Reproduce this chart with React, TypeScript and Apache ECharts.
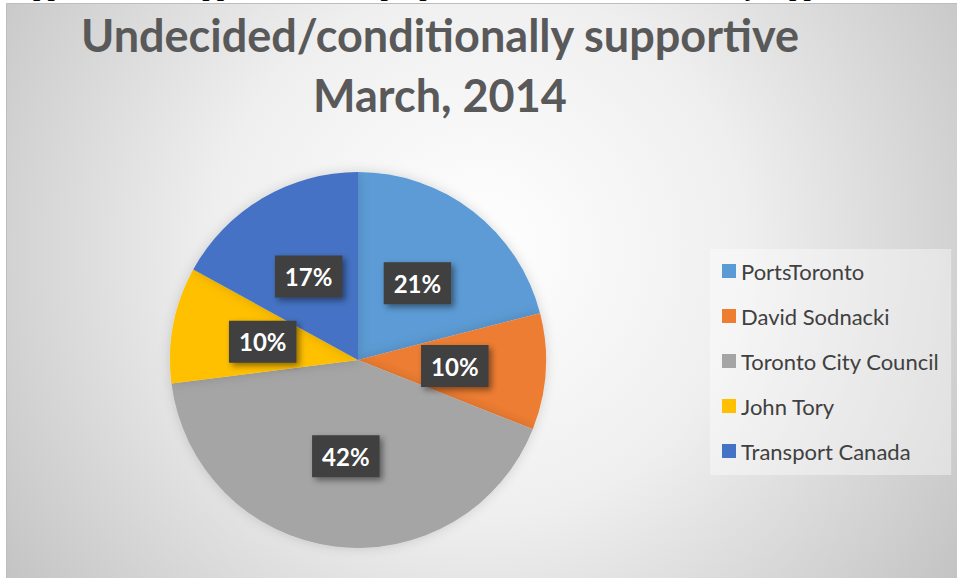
import React, { useEffect, useRef } from "react";
import * as echarts from "echarts";

const categories = ["PortsToronto", "David Sodnacki", "Toronto City Council", "John Tory", "Transport Canada"];
const values = [21, 10, 42, 10, 17];
const colors = ["#5B9BD5", "#ED7D31", "#A5A5A5", "#FFC000", "#4472C4"];
const titleLines = ["Undecided/conditionally supportive", "March, 2014"];
const headingText = "Support for and opposition to the proposal; undecided/conditionally supportive, March, 2014,";

export default function App() {
  const ref = useRef<HTMLDivElement>(null);
  useEffect(() => {
    if (!ref.current) return;
    const chart = echarts.init(ref.current, null, { renderer: "svg" });
    chart.setOption({
      animation: false,
      graphic: [
        {
          type: "rect",
          z: -10,
          shape: { x: 6.5, y: 3.5, width: 955, height: 580 },
          style: {
            fill: new echarts.graphic.RadialGradient(480, 250, 590, [
              { offset: 0, color: "#ffffff" },
              { offset: 0.45, color: "#efefef" },
              { offset: 1, color: "#c2c2c2" },
            ], true),
            stroke: "#bdbdbd",
            lineWidth: 1,
          },
        },
        {
          type: "text",
          z: 10,
          x: 4,
          y: 0,
          style: {
            text: headingText,
            font: "bold 26px 'Liberation Serif'",
            fill: "#000000",
            align: "left",
            verticalAlign: "bottom",
          },
        },
        {
          type: "text",
          z: 10,
          x: 440,
          y: 5,
          style: {
            text: titleLines.join("\n"),
            font: "bold 45px Lato",
            lineHeight: 60,
            fill: "#595959",
            align: "center",
            verticalAlign: "top",
          },
        },
      ],
      color: colors,
      legend: {
        data: categories,
        orient: "vertical",
        left: 710,
        top: 249,
        padding: [11, 12, 13, 12],
        itemGap: 23,
        itemWidth: 14,
        itemHeight: 14,
        icon: "rect",
        selectedMode: false,
        backgroundColor: "rgba(255,255,255,0.4)",
        textStyle: { fontFamily: "Lato", fontSize: 22, color: "#404040" },
      },
      series: [
        {
          type: "pie",
          center: [358, 360],
          radius: 188,
          startAngle: 90,
          clockwise: true,
          percentPrecision: 0,
          itemStyle: { shadowBlur: 12, shadowColor: "rgba(0,0,0,0.15)" },
          label: {
            show: true,
            position: "inside",
            formatter: "{d}%",
            fontFamily: "Lato",
            fontWeight: "bold",
            fontSize: 24,
            color: "#ffffff",
            backgroundColor: "#3f3f3f",
            padding: [10, 10, 8, 10],
            shadowColor: "rgba(0,0,0,0.45)",
            shadowBlur: 6,
            shadowOffsetX: 3,
            shadowOffsetY: 3,
          },
          labelLine: { show: false },
          emphasis: { disabled: true },
          data: categories.map((name, i) => ({ name, value: values[i] })),
        },
      ],
    });
    return () => chart.dispose();
  }, []);
  return <div ref={ref} style={{ position: "absolute", left: 0, top: 0, width: 957, height: 578 }} />;
}
